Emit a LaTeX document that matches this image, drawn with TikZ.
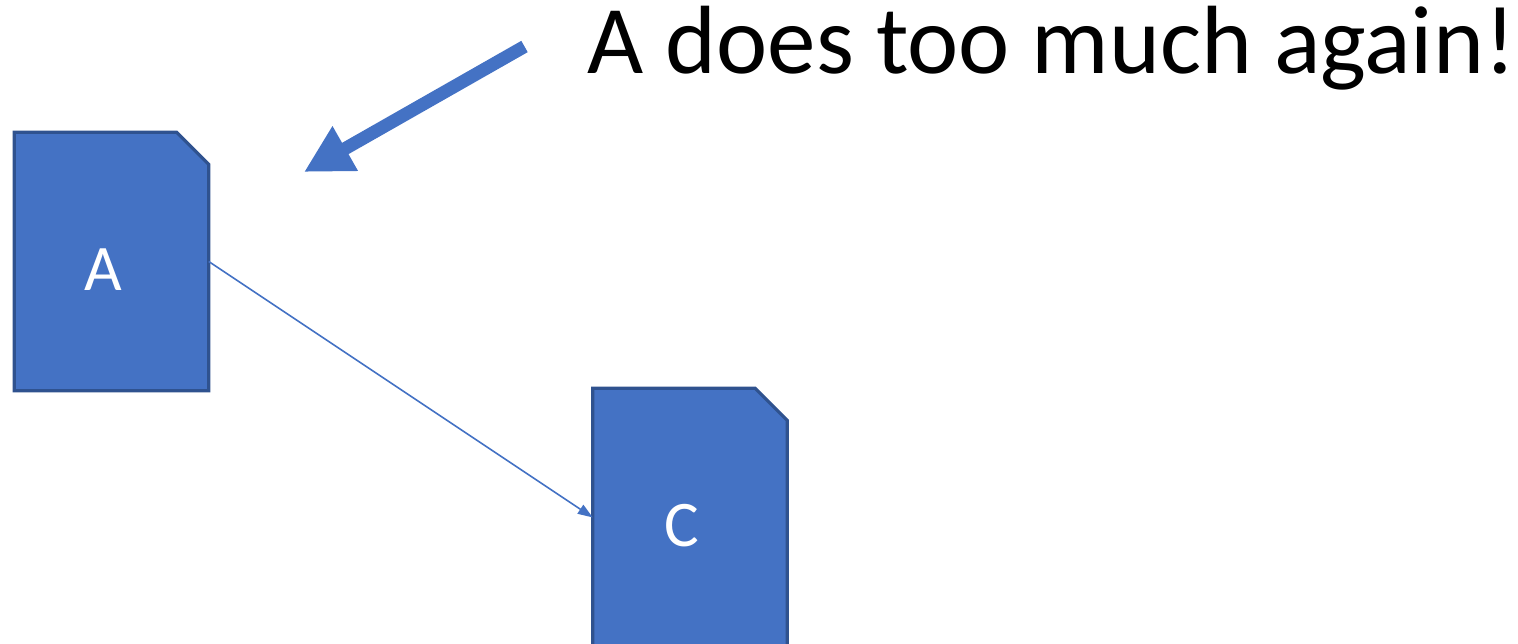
\documentclass[tikz,border=0pt]{standalone}
\usepackage{fontspec}
\setmainfont{Carlito}
\usetikzlibrary{arrows.meta, positioning, calc, backgrounds}
\definecolor{docc}{HTML}{4472C4}
\definecolor{doce}{HTML}{2F528F}
\tikzset{
  doc/.style={minimum width=1.93cm, minimum height=2.57cm, inner sep=0pt},
  docbody/.style={fill=docc, draw=doce, line width=0.9pt, line join=miter},
  doclbl/.style={text=white, inner sep=0pt, font=\fontsize{18.5}{20}\selectfont},
  link/.style={-{Triangle[length=1.5mm, width=1.05mm]}, draw=docc, line width=0.45pt},
  big/.style={-{Triangle[length=4.75mm, width=4.8mm]}, draw=docc, line width=1.3mm},
}
% document outline with the cut top-right corner
\newcommand{\docshape}[1]{%
  \draw[docbody] (#1.north west) -- ([xshift=-0.32cm]#1.north east)
    -- ([yshift=-0.32cm]#1.north east) -- (#1.south east)
    -- (#1.south west) -- cycle;}

\begin{document}
\begin{tikzpicture}
  \useasboundingbox (0,0) rectangle (15.18,-6.44);
  \clip (0,0) rectangle (15.18,-6.44);
  \node[doc] (a) at (1.115,-2.615) {};
  \node[doc] (c) at (6.90,-5.175) {};
  \begin{scope}[on background layer]
    \docshape{a}
    \docshape{c}
  \end{scope}
  \node[doclbl] (alab) at ([shift={(-0.08,-0.085)}]a.center) {A};
  \node[doclbl] (clab) at ([shift={(-0.08,-0.08)}]c.center) {C};
  \draw[link] (a.east) -- (c.west);
  \node[anchor=base west, inner sep=0pt, font=\fontsize{27.6}{32}\selectfont]
    (note) at (5.87,-0.735) {A does too much again!};
  \coordinate (tail) at (5.245,-0.465);
  \coordinate (tip) at (3.04,-1.72);
  \draw[big] (tail) -- (tip);
\end{tikzpicture}
\end{document}
